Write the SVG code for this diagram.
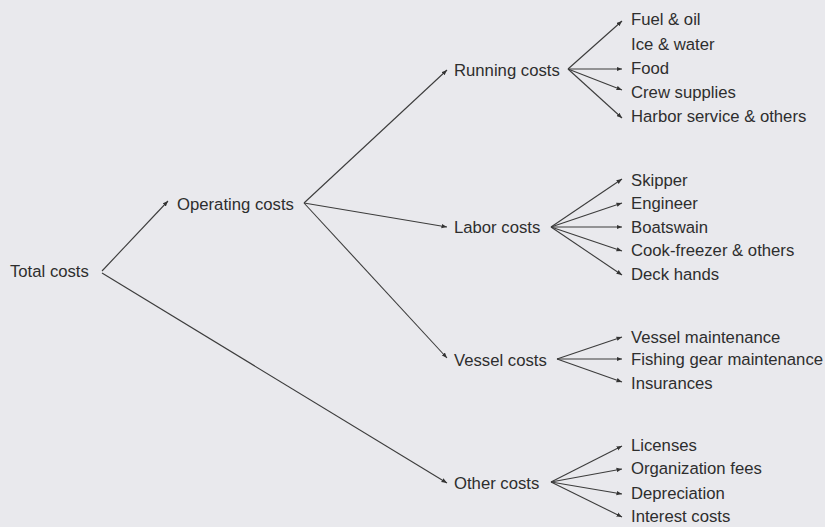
<svg xmlns="http://www.w3.org/2000/svg" width="825" height="527" viewBox="0 0 825 527">
<defs>
<style>
text{font-family:"Liberation Sans",Arial,sans-serif;font-size:16.7px;fill:#2e2e2e}
.c line{stroke:#3c3c3c;stroke-width:1.1;fill:none;marker-end:url(#ah)}
</style>
<marker id="ah" markerUnits="userSpaceOnUse" markerWidth="6" markerHeight="5" refX="5.5" refY="2.5" orient="auto">
<path d="M0,0.3 L5.5,2.5 L0,4.7 Z" fill="#333"/>
</marker>
</defs>
<rect width="825" height="527" fill="#e9e9ed"/>
<g class="c" id="connectors">
<line x1="102" y1="271" x2="168" y2="201"/>
<line x1="102" y1="273" x2="447" y2="483"/>
<line x1="304" y1="203" x2="447" y2="70"/>
<line x1="304" y1="203" x2="447" y2="227"/>
<line x1="304" y1="203" x2="447" y2="358"/>
<line x1="568" y1="69" x2="622" y2="21"/>
<line x1="568" y1="69" x2="622" y2="69"/>
<line x1="568" y1="69" x2="622" y2="90"/>
<line x1="568" y1="69" x2="622" y2="118"/>
<line x1="551" y1="227" x2="622" y2="179"/>
<line x1="551" y1="227" x2="622" y2="203"/>
<line x1="551" y1="227" x2="622" y2="227"/>
<line x1="551" y1="227" x2="622" y2="251"/>
<line x1="551" y1="227" x2="622" y2="275"/>
<line x1="557" y1="359" x2="622" y2="337"/>
<line x1="557" y1="359" x2="622" y2="359"/>
<line x1="557" y1="359" x2="622" y2="382"/>
<line x1="551" y1="482" x2="622" y2="446"/>
<line x1="551" y1="482" x2="622" y2="469"/>
<line x1="551" y1="482" x2="622" y2="494"/>
<line x1="551" y1="482" x2="622" y2="517"/>
</g>
<g id="total"><text x="10" y="277">Total costs</text></g>
<g id="operating"><text x="177" y="210">Operating costs</text></g>
<g id="running"><text x="454" y="76">Running costs</text></g>
<g id="labor"><text x="454" y="233">Labor costs</text></g>
<g id="vessel"><text x="454" y="366">Vessel costs</text></g>
<g id="other"><text x="454" y="489">Other costs</text></g>
<g id="fuel"><text x="631" y="25">Fuel &amp; oil</text></g>
<g id="ice"><text x="631" y="50">Ice &amp; water</text></g>
<g id="food"><text x="631" y="74">Food</text></g>
<g id="crew"><text x="631" y="98">Crew supplies</text></g>
<g id="harbor"><text x="631" y="122">Harbor service &amp; others</text></g>
<g id="skipper"><text x="631" y="186">Skipper</text></g>
<g id="engineer"><text x="631" y="209">Engineer</text></g>
<g id="boatswain"><text x="631" y="233">Boatswain</text></g>
<g id="cook"><text x="631" y="256">Cook-freezer &amp; others</text></g>
<g id="deck"><text x="631" y="280">Deck hands</text></g>
<g id="vmaint"><text x="631" y="343">Vessel maintenance</text></g>
<g id="fgear"><text x="631" y="365">Fishing gear maintenance</text></g>
<g id="insur"><text x="631" y="389">Insurances</text></g>
<g id="lic"><text x="631" y="451">Licenses</text></g>
<g id="org"><text x="631" y="474">Organization fees</text></g>
<g id="dep"><text x="631" y="499">Depreciation</text></g>
<g id="int"><text x="631" y="522">Interest costs</text></g>
</svg>
